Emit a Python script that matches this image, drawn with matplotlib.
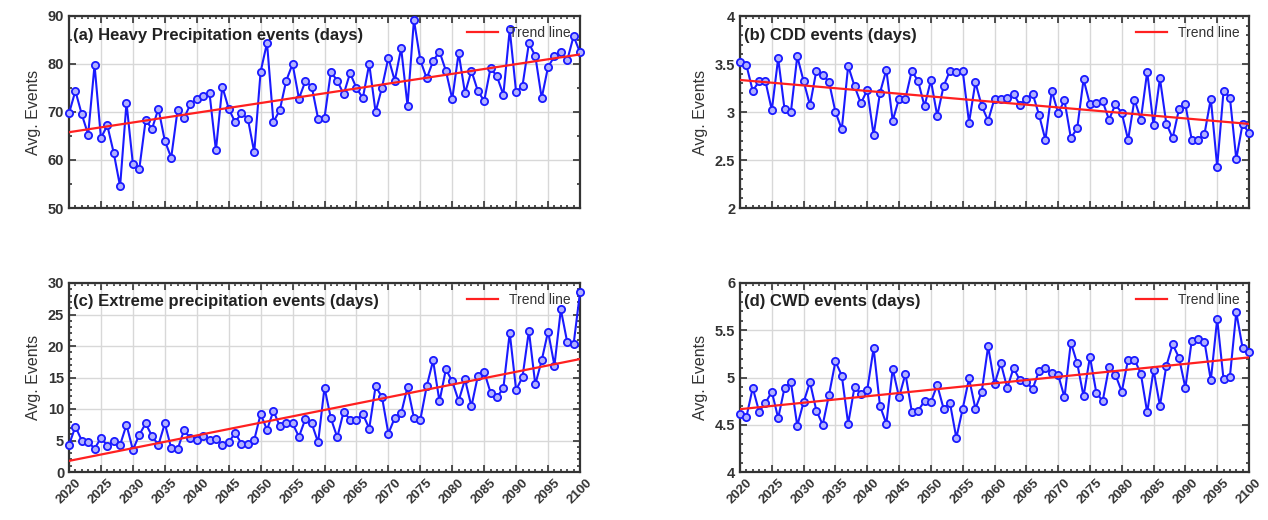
import numpy as np
import matplotlib
matplotlib.use("Agg")
import matplotlib.pyplot as plt
from matplotlib.ticker import MultipleLocator, FormatStrFormatter

plt.rcParams['font.family'] = ['Liberation Sans', 'DejaVu Sans']

years = list(range(2020, 2101))

heavy = [69.7, 74.4, 69.5, 65.3, 79.8, 64.6, 67.2, 61.5, 54.5, 71.9,
         59.2, 58.1, 68.3, 66.5, 70.7, 64.0, 60.5, 70.4, 68.7, 71.6,
         72.8, 73.4, 73.9, 62.0, 75.3, 70.7, 67.9, 69.7, 68.6, 61.6,
         78.4, 84.4, 67.9, 70.4, 76.5, 80.0, 72.8, 76.4, 75.3, 68.6,
         68.8, 78.4, 76.5, 73.7, 78.1, 75.0, 72.9, 80.0, 70.0, 75.1,
         81.3, 76.5, 83.3, 71.3, 89.2, 80.8, 77.0, 80.6, 82.6, 78.6,
         72.7, 82.3, 73.9, 78.6, 74.4, 72.3, 79.2, 77.4, 73.6, 87.2,
         74.1, 75.5, 84.3, 81.7, 72.9, 79.4, 81.6, 82.6, 80.8, 85.8,
         82.4]

cdd = [3.52, 3.49, 3.22, 3.32, 3.32, 3.02, 3.56, 3.03, 3.00, 3.58,
       3.32, 3.07, 3.43, 3.39, 3.31, 3.00, 2.82, 3.48, 3.27, 3.09,
       3.23, 2.76, 3.20, 3.44, 2.91, 3.14, 3.14, 3.43, 3.32, 3.06,
       3.33, 2.96, 3.27, 3.43, 3.42, 3.43, 2.89, 3.31, 3.06, 2.91,
       3.14, 3.14, 3.15, 3.19, 3.07, 3.14, 3.19, 2.97, 2.71, 3.22,
       2.99, 3.12, 2.73, 2.83, 3.34, 3.08, 3.09, 3.11, 2.92, 3.08,
       2.99, 2.71, 3.13, 2.92, 3.42, 2.86, 3.35, 2.88, 2.73, 3.03,
       3.08, 2.71, 2.71, 2.77, 3.14, 2.43, 3.22, 3.15, 2.51, 2.88,
       2.78]

extreme = [4.3, 7.2, 5.0, 4.8, 3.7, 5.4, 4.2, 4.9, 4.3, 7.5,
           3.5, 5.9, 7.7, 5.7, 4.3, 7.7, 3.8, 3.6, 6.6, 5.4,
           5.1, 5.7, 5.1, 5.2, 4.3, 4.7, 6.2, 4.5, 4.5, 5.1,
           9.2, 6.7, 9.7, 7.3, 7.8, 7.7, 5.6, 8.4, 7.7, 4.7,
           13.4, 8.5, 5.5, 9.6, 8.3, 8.3, 9.2, 6.9, 13.6, 11.9,
           6.1, 8.6, 9.3, 13.5, 8.6, 8.3, 13.6, 17.7, 11.2, 16.3,
           14.4, 11.3, 14.7, 10.4, 15.2, 15.9, 12.6, 11.9, 13.3, 22.1,
           13.0, 15.1, 22.4, 13.9, 17.7, 22.3, 16.9, 25.8, 20.6, 20.3,
           28.5]

cwd = [4.61, 4.58, 4.89, 4.64, 4.73, 4.85, 4.57, 4.89, 4.95, 4.49,
       4.74, 4.95, 4.65, 4.50, 4.82, 5.17, 5.02, 4.51, 4.90, 4.83,
       4.87, 5.31, 4.70, 4.51, 5.09, 4.79, 5.04, 4.64, 4.65, 4.75,
       4.74, 4.92, 4.67, 4.73, 4.36, 4.67, 4.99, 4.67, 4.85, 5.33,
       4.93, 5.15, 4.89, 5.10, 4.97, 4.95, 4.88, 5.07, 5.10, 5.05,
       5.03, 4.79, 5.37, 5.15, 4.80, 5.22, 4.84, 4.75, 5.11, 5.03,
       4.85, 5.19, 5.19, 5.04, 4.63, 5.08, 4.70, 5.12, 5.35, 5.21,
       4.89, 5.39, 5.41, 5.38, 4.97, 5.62, 4.98, 5.01, 5.69, 5.31,
       5.27]

titles = ["(a) Heavy Precipitation events (days)", "(b) CDD events (days)",
          "(c) Extreme precipitation events (days)", "(d) CWD events (days)"]
series = [heavy, cdd, extreme, cwd]
ylims = [(50, 90), (2, 4), (0, 30), (4, 6)]
ymajor = [10, 0.5, 5, 0.5]
yminor = [5, 0.1, 1, 0.1]
xticks = list(range(2020, 2101, 5))

fig = plt.figure(figsize=(12.68, 5.2), dpi=100)
W, H = 1268.0, 520.0
boxes = [(69, 16, 580, 208), (740, 16, 1249, 208),
         (69, 283, 580, 472), (740, 283, 1249, 472)]

for i, (x0, y0, x1, y1) in enumerate(boxes):
    ax = fig.add_axes([x0 / W, 1 - y1 / H, (x1 - x0) / W, (y1 - y0) / H])
    yrs = np.array(years)
    vals = np.array(series[i])
    ax.plot(yrs, vals, color='#1a1aff', lw=1.5, marker='o', ms=5.2,
            mfc='#b0b0ff', mec='#1a1aff', mew=1.3, zorder=3, clip_on=False)
    p = np.polyfit(yrs, vals, 1)
    ax.plot(yrs, np.polyval(p, yrs), color='#ff2020', lw=1.6, zorder=4,
            label='Trend line')
    ax.set_xlim(2020, 2100)
    ax.set_ylim(*ylims[i])
    ax.xaxis.set_major_locator(MultipleLocator(5))
    ax.xaxis.set_minor_locator(MultipleLocator(1))
    ax.yaxis.set_major_locator(MultipleLocator(ymajor[i]))
    ax.yaxis.set_minor_locator(MultipleLocator(yminor[i]))
    ax.yaxis.set_major_formatter(FormatStrFormatter('%g'))
    ax.grid(True, which='major', color='#d8d8d8', lw=1.0)
    ax.set_axisbelow(True)
    ax.tick_params(which='both', direction='in', top=True, right=True,
                   width=1.2, colors='#333333')
    ax.tick_params(which='major', length=5)
    ax.tick_params(which='minor', length=2.5)
    ax.tick_params(axis='y', labelsize=10.5, labelcolor='#333333')
    for s in ax.spines.values():
        s.set_linewidth(1.6)
        s.set_color('#333333')
    ax.set_xticks(xticks)
    if i >= 2:
        ax.set_xticklabels([str(v) for v in xticks], rotation=45,
                           fontsize=9.5, fontweight='bold', color='#333333')
    else:
        ax.set_xticklabels([])
    for lab in ax.get_yticklabels():
        lab.set_fontweight('bold')
    ax.set_ylabel("Avg. Events", fontsize=11.5, color='#333333', labelpad=5)
    ax.text(0.008, 0.94, titles[i], transform=ax.transAxes, fontsize=12,
            fontweight='bold', va='top', ha='left', color='#222222')
    leg = ax.legend(loc='upper right', frameon=False, fontsize=10,
                    handlelength=2.2, borderaxespad=0.3)
    for t in leg.get_texts():
        t.set_color('#333333')

fig.savefig("out.png", dpi=100)
